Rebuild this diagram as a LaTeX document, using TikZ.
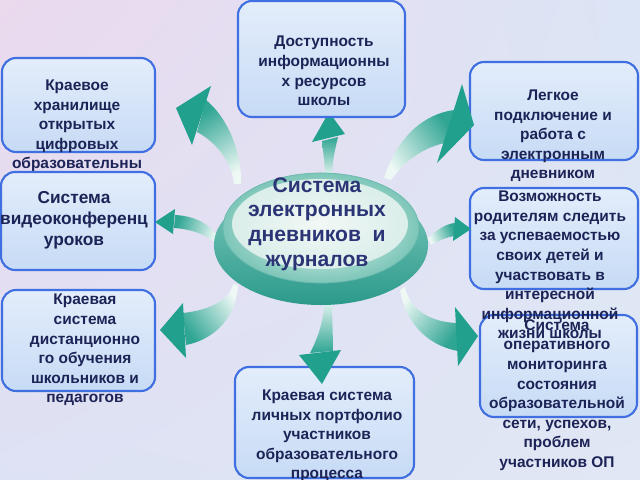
\documentclass[tikz,border=0pt]{standalone}
\usepackage{fontspec}
\setmainfont{Liberation Sans}
\usetikzlibrary{shapes.geometric,shadings}
\definecolor{navy}{HTML}{1C2356}
\definecolor{cnavy}{HTML}{2B3475}
\definecolor{bgA}{HTML}{EBD9EE}
\definecolor{bgB}{HTML}{DBE5F5}
\definecolor{bgC}{HTML}{DDE2F4}
\definecolor{bgD}{HTML}{E1E7F4}
\definecolor{boxline}{HTML}{3F6FE0}
\definecolor{boxtop}{HTML}{E3EDFB}
\definecolor{boxbot}{HTML}{C7DBF5}
\definecolor{tealhead}{HTML}{22A08E}
\definecolor{tealbody}{HTML}{2FA593}
\definecolor{pale}{HTML}{EEF8F5}
\definecolor{diskTop}{HTML}{7FCABD}
\definecolor{diskBot}{HTML}{2B9A8B}
\definecolor{faceIn}{HTML}{F2F8F6}
\definecolor{faceOut}{HTML}{7CC6B8}
\tikzset{
  box/.style={draw=boxline, line width=1.5pt, rounded corners=10pt,
    top color=boxtop, bottom color=boxbot, inner sep=0pt},
  txt/.style={text=navy, align=center, inner sep=0pt,
    font=\bfseries\fontsize{11}{13.9}\selectfont},
  bigtxt/.style={text=navy, align=center, inner sep=0pt,
    font=\bfseries\fontsize{12.3}{15}\selectfont},
  ctxt/.style={text=cnavy, align=center, inner sep=0pt,
    font=\bfseries\fontsize{15}{17.5}\selectfont},
  ahead/.style={fill=tealhead},
}
\newcommand{\abody}[2]{\shade[top color=tealbody, middle color=tealbody!65!pale, bottom color=pale, shading angle=#1] #2;}
\begin{document}
\begin{tikzpicture}[x=0.025cm,y=-0.025cm]
\useasboundingbox (0,0) rectangle (640,480);
\shade[upper left=bgA, upper right=bgB, lower left=bgC, lower right=bgD] (0,0) rectangle (640,480);

% arrow to the top box (its tip lies under the box border)
\abody{0}{(322,141) .. controls (323,152) and (325,162) .. (325,178) -- (332,178) .. controls (332,162) and (335,150) .. (338,137) -- cycle}
\fill[ahead] (312,142) -- (329,112) -- (345,134) -- cycle;

% boxes and texts
\node[box, minimum width=3.825cm, minimum height=2.35cm] (b1) at (78.5,105) {};
\node[txt] (t1) at (77,126) {Краевое\\хранилище\\открытых\\цифровых\\образовательны};
\node[box, minimum width=3.85cm, minimum height=2.45cm] (b2) at (78,221) {};
\node[bigtxt] (t2) at (74,220) {Система\\видеоконференц\\уроков};
\node[box, minimum width=3.825cm, minimum height=2.525cm] (b3) at (78.5,340.5) {};
\node[txt] (t3) at (85,350) {Краевая\\система\\дистанционно\\го обучения\\школьников и\\педагогов};
\node[box, minimum width=4.175cm, minimum height=2.9cm] (b4) at (321.5,59) {};
\node[txt] (t4) at (324,71) {Доступность\\информационны\\х ресурсов\\школы};
\node[box, minimum width=4.2cm, minimum height=2.45cm] (b5) at (554,111) {};
\node[txt] (t5) at (553,136) {Легкое\\подключение и\\работа с\\электронным\\дневником};
\node[box, minimum width=3.925cm, minimum height=2.55cm] (b7) at (558.5,366) {};
\node[box, minimum width=4.2cm, minimum height=2.525cm] (b6) at (554,238.5) {};
\node[txt] (t6) at (550,265) {Возможность\\родителям следить\\за успеваемостью\\своих детей и\\участвовать в\\интересной\\информационной\\жизни школы};
\node[txt] (t7) at (557,395) {Система\\оперативного\\мониторинга\\состояния\\образовательной\\сети, успехов,\\проблем\\участников ОП};
\node[box, minimum width=4.475cm, minimum height=2.775cm] (b8) at (324.5,422.5) {};
\node[txt] (t8) at (327,436) {Краевая система\\личных портфолио\\участников\\образовательного\\процесса};

% arrows
\abody{33}{(206,100) .. controls (226,116) and (242,150) .. (241,184) -- (234,184) .. controls (232,162) and (216,142) .. (197,132) -- cycle}
\fill[ahead] (211,86) -- (176,108) -- (192,145) -- cycle;

\abody{-54}{(454,110) .. controls (425,114) and (398,135) .. (384,178) -- (391,180) .. controls (405,160) and (425,147) .. (445,143) -- cycle}
\fill[ahead] (462,84) -- (474,125) -- (437,163) -- cycle;

\abody{73}{(175,215) .. controls (195,216) and (210,224) .. (219,238) -- (214,242) .. controls (205,234) and (190,229) .. (174,228) -- cycle}
\fill[ahead] (175,209) -- (155,222) -- (173,234) -- cycle;

\abody{126}{(183,313) .. controls (210,310) and (230,300) .. (233,284) -- (238,285) .. controls (236,320) and (212,340) .. (186,345) -- cycle}
\fill[ahead] (183,303) -- (160,330) -- (186,358) -- cycle;

\abody{-69}{(455,223) .. controls (445,224) and (437,230) .. (428,238) -- (431,245) .. controls (440,240) and (447,237) .. (455,236) -- cycle}
\fill[ahead] (455,217) -- (471,229) -- (453,241) -- cycle;

\abody{-128}{(405,287) .. controls (410,310) and (430,322) .. (457,323) -- (458,351) .. controls (425,345) and (405,320) .. (400,290) -- cycle}
\fill[ahead] (455,307) -- (478,336) -- (458,366) -- cycle;

\abody{-180}{(325,298) .. controls (324,320) and (318,338) .. (310,353) -- (333,351) .. controls (333,335) and (332,318) .. (332,298) -- cycle}
\fill[ahead] (299,355) -- (341,350) -- (322,384) -- cycle;

% central disk
\node[ellipse, minimum width=5.35cm, minimum height=3cm, inner sep=0pt,
  top color=diskTop, bottom color=diskBot] (diskbase) at (321,245) {};
\node[ellipse, minimum width=4.9cm, minimum height=2.75cm, inner sep=0pt,
  draw=diskBot!70, line width=0.5pt, inner color=faceIn, outer color=faceOut] (diskface) at (321,228) {};
\node[ellipse, minimum width=4.4cm, minimum height=2.25cm, inner sep=0pt,
  inner color=faceIn, outer color=faceIn!80!faceOut] (diskinner) at (320,224) {};
\node[ctxt] (tc) at (317,224) {Система\\электронных\\дневников\ \ и\\журналов};
\end{tikzpicture}
\end{document}
